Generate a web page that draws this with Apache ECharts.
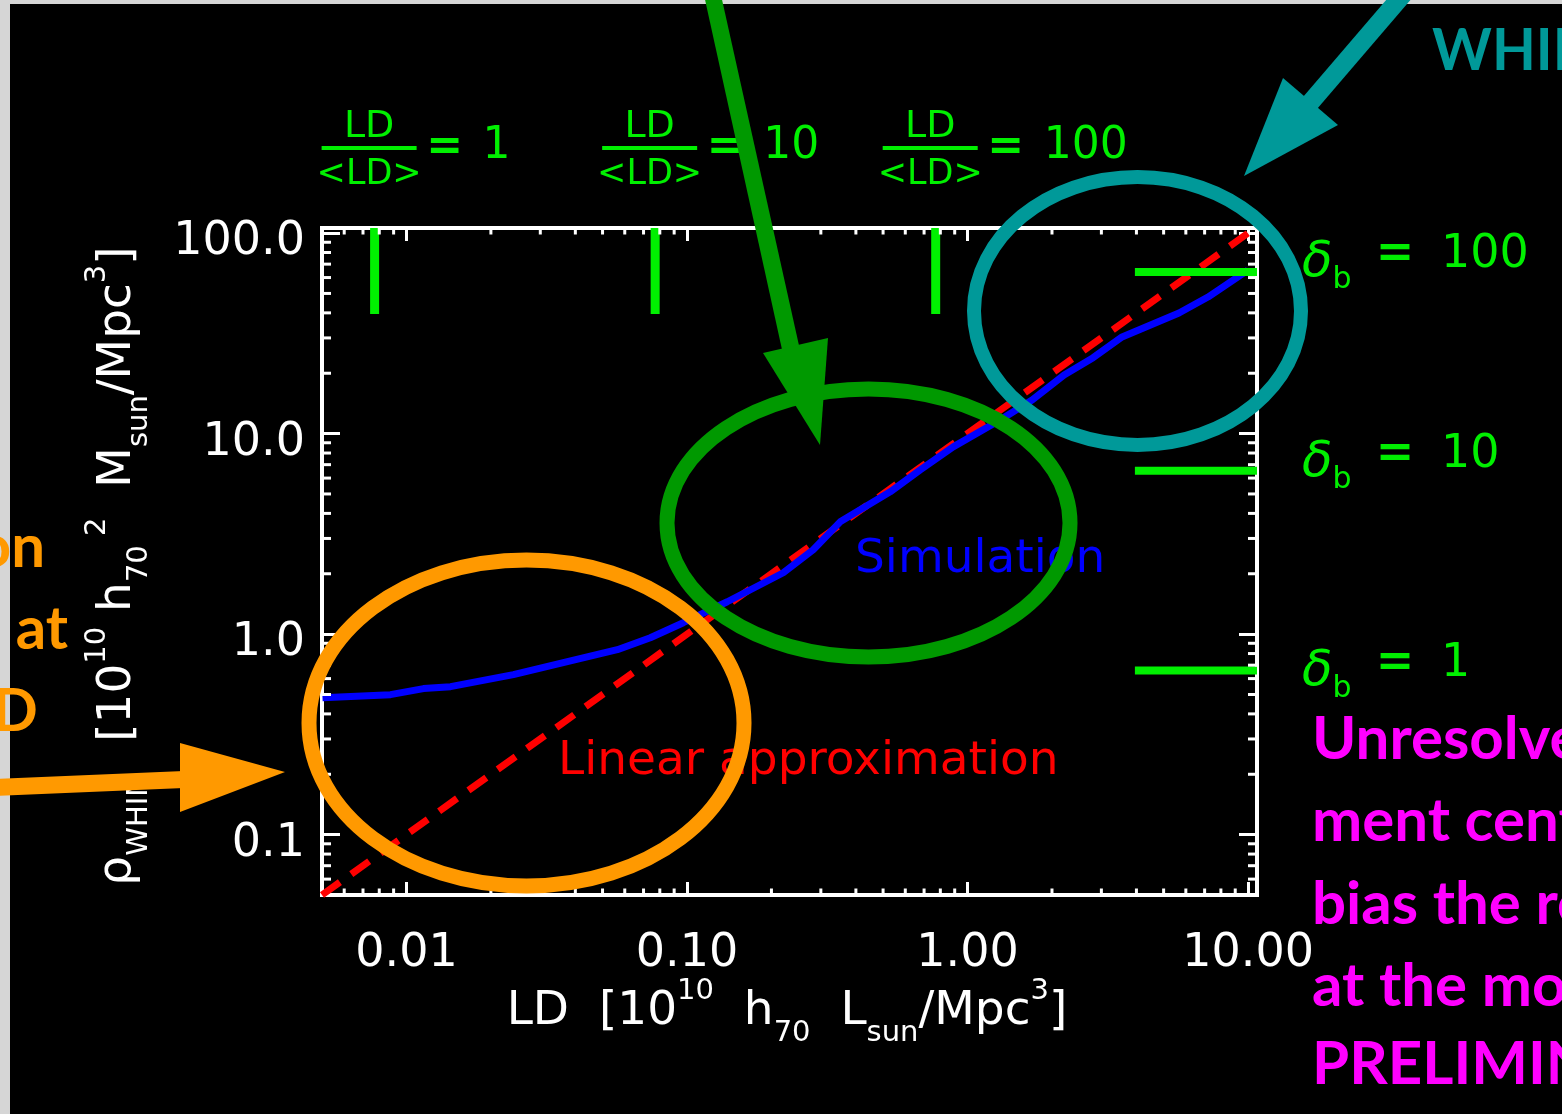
<!DOCTYPE html>
<html>
<head>
<meta charset="utf-8">
<script src="https://cdn.jsdelivr.net/npm/echarts@6/dist/echarts.min.js"></script>
<style>
  html, body { margin: 0; padding: 0; background: #000; }
  #chart { width: 1562px; height: 1114px; }
</style>
</head>
<body>
<div id="chart"></div>
<script>
// Simulated WHIM mass density against galaxy luminosity density
const ldSim  = [0.00502, 0.00877, 0.0115, 0.01436, 0.02405, 0.03747, 0.05646, 0.0740, 0.0970,
                0.1392, 0.2204, 0.2818, 0.3516, 0.530, 0.678, 0.8886, 1.306, 1.699, 2.209,
                2.803, 3.555, 5.673, 7.196, 9.99];
const rhoSim = [0.482, 0.499, 0.535, 0.547, 0.628, 0.729, 0.836, 0.959, 1.140,
                1.450, 2.023, 2.634, 3.631, 5.123, 6.595, 8.586, 11.70, 14.72, 19.61,
                23.90, 30.33, 39.95, 47.98, 65.4];

// Linear approximation rho = 10 * LD across the whole range
const ldLinear  = [0.005, 10.76];
const rhoLinear = [0.05, 107.6];

// LD / <LD> markers along the top and baryon overdensity markers on the right
const ldRatioMarks   = [0.0077, 0.077, 0.77];
const ratioValues    = ['1', '10', '100'];
const ratioBarRho    = [39.5, 106];
const rhoDeltaMarks  = [0.658, 6.52, 64.0];
const deltaValues    = ['1', '10', '100'];
const deltaBarLD     = [3.95, 10.76];

// Axis ranges and labelled ticks
const xRange = [0.005, 10.76];
const yRange = [0.05, 106];
const xTickValues = [0.01, 0.1, 1, 10];
const xTickLabels = ['0.01', '0.10', '1.00', '10.00'];
const yTickValues = [0.1, 1, 10, 100];
const yTickLabels = ['0.1', '1.0', '10.0', '100.0'];
const minorSteps  = [2, 3, 4, 5, 6, 7, 8, 9];
const decades     = [0.001, 0.01, 0.1, 1, 10];

function minorTicks(range) {
  const out = [];
  decades.forEach(d => minorSteps.forEach(m => {
    const v = +(d * m).toPrecision(6);
    if (v > range[0] * 1.0001 && v < range[1] * 0.9999) out.push(v);
  }));
  return out;
}
const xMinor = minorTicks(xRange);
const yMinor = minorTicks(yRange);

function labelFor(values, labels) {
  return function (v) {
    for (let i = 0; i < values.length; i++) {
      if (Math.abs(Math.log10(v) - Math.log10(values[i])) < 1e-6) return labels[i];
    }
    return '';
  };
}

const FONT = 'DejaVu Sans';
const SLIDE_FONT = 'Lato';
const WHITE = '#ffffff';
const LIME = '#00f000';

const chart = echarts.init(document.getElementById('chart'), null, { renderer: 'canvas' });

function axisBase(pos, range, tickLen) {
  return {
    type: 'log', logBase: 10, min: range[0], max: range[1], position: pos,
    axisLine: { show: true, onZero: false, lineStyle: { color: WHITE, width: 4, cap: 'square' } },
    axisTick: { show: true, inside: true, length: tickLen, lineStyle: { color: WHITE, width: 3 } },
    splitLine: { show: false },
    minorTick: { show: false },
    axisLabel: { show: false }
  };
}

const xBottom = axisBase('bottom', xRange, 13);
xBottom.axisLabel = {
  show: true, showMinLabel: false, showMaxLabel: false, margin: 36,
  color: WHITE, fontFamily: FONT, fontSize: 46,
  formatter: labelFor(xTickValues, xTickLabels)
};
const yLeft = axisBase('left', yRange, 18);
yLeft.axisLabel = {
  show: true, showMinLabel: false, showMaxLabel: false, margin: 17,
  color: WHITE, fontFamily: FONT, fontSize: 46, verticalAlign: 'top', lineHeight: 18,
  formatter: labelFor(yTickValues, yTickLabels)
};

const series = [
  {
    name: 'Linear approximation', type: 'line', z: 3, silent: true,
    data: ldLinear.map((x, i) => [x, rhoLinear[i]]),
    showSymbol: false,
    lineStyle: { color: '#ff0000', width: 7, type: [22, 14] }
  },
  {
    name: 'Simulation', type: 'line', z: 4, silent: true,
    data: ldSim.map((x, i) => [x, rhoSim[i]]),
    showSymbol: false,
    lineStyle: { color: '#0000ff', width: 7 }
  }
];
ldRatioMarks.forEach(v => series.push({
  type: 'line', z: 5, silent: true, showSymbol: false,
  data: ratioBarRho.map(r => [v, r]),
  lineStyle: { color: LIME, width: 9 }
}));
rhoDeltaMarks.forEach(r => series.push({
  type: 'line', z: 5, silent: true, showSymbol: false,
  data: deltaBarLD.map(x => [x, r]),
  lineStyle: { color: LIME, width: 8 }
}));
// logarithmic minor ticks on all four sides of the box
series.push({
  type: 'custom', z: 6, silent: true, clip: false,
  data: xMinor.map(v => [v, 1]),
  renderItem: function (params, api) {
    const cs = params.coordSys;
    const p = api.coord([api.value(0), 1]);
    const st = { stroke: WHITE, lineWidth: 3 };
    return { type: 'group', children: [
      { type: 'line', shape: { x1: p[0], y1: cs.y + cs.height, x2: p[0], y2: cs.y + cs.height - 6.5 }, style: st },
      { type: 'line', shape: { x1: p[0], y1: cs.y, x2: p[0], y2: cs.y + 6.5 }, style: st }
    ]};
  }
});
series.push({
  type: 'custom', z: 6, silent: true, clip: false,
  data: yMinor.map(v => [1, v]),
  renderItem: function (params, api) {
    const cs = params.coordSys;
    const p = api.coord([1, api.value(1)]);
    const st = { stroke: WHITE, lineWidth: 3 };
    return { type: 'group', children: [
      { type: 'line', shape: { x1: cs.x, y1: p[1], x2: cs.x + 9, y2: p[1] }, style: st },
      { type: 'line', shape: { x1: cs.x + cs.width, y1: p[1], x2: cs.x + cs.width - 9, y2: p[1] }, style: st }
    ]};
  }
});

chart.setOption({
  backgroundColor: '#000000',
  animation: false,
  grid: { left: 322, top: 228, width: 935, height: 667, containLabel: false },
  xAxis: [xBottom, axisBase('top', xRange, 13)],
  yAxis: [yLeft, axisBase('right', yRange, 18)],
  series: series
});

// ---- text and annotations ----
function txt(x, y, text, opt) {
  return {
    type: 'text', x: x, y: y, z: 50,
    style: Object.assign({
      text: text, fill: WHITE, fontFamily: FONT, fontSize: 44,
      align: 'left', verticalAlign: 'middle', textAlign: 'left', textVerticalAlign: 'middle'
    }, opt || {})
  };
}
function richStyles(color, size, sub) {
  return {
    n:   { fill: color, fontFamily: FONT, fontSize: size, lineHeight: size + 24 },
    sup: { fill: color, fontFamily: FONT, fontSize: sub, lineHeight: sub, verticalAlign: 'top' },
    sub: { fill: color, fontFamily: FONT, fontSize: sub, lineHeight: sub, verticalAlign: 'bottom' }
  };
}

const graphics = [];

// light frame of the slide
graphics.push({ type: 'rect', z: 1, shape: { x: 0, y: 0, width: 10, height: 1114 }, style: { fill: '#d6d6d6' } });
graphics.push({ type: 'rect', z: 1, shape: { x: 0, y: 0, width: 1562, height: 4 }, style: { fill: '#d6d6d6' } });

// axis titles
graphics.push({
  type: 'text', x: 787, y: 1012, z: 50,
  style: {
    text: '{n|LD  [10}{sup|10}{n|  h}{sub|70}{n|  L}{sub|sun}{n|/Mpc}{sup|3}{n|]}',
    rich: richStyles(WHITE, 47, 29),
    align: 'center', verticalAlign: 'middle', textAlign: 'center', textVerticalAlign: 'middle'
  }
});
graphics.push({
  type: 'text', x: 118, y: 566, z: 50, rotation: Math.PI / 2,
  style: {
    text: '{n|\u03C1}{sub|WHIM}{n|  [10}{sup|10}{n| h}{sub|70}{sup| 2}{n|  M}{sub|sun}{n|/Mpc}{sup|3}{n|]}',
    rich: richStyles(WHITE, 47, 29),
    align: 'center', verticalAlign: 'middle', textAlign: 'center', textVerticalAlign: 'middle'
  }
});

// in-plot labels
graphics.push(txt(855, 560, 'Simulation', { fill: '#0000ff', fontSize: 47 }));
graphics.push(txt(558, 762, 'Linear approximation', { fill: '#ff0000', fontSize: 47 }));

// LD/<LD> fractions above the top axis
ldRatioMarks.forEach((v, i) => {
  const px = chart.convertToPixel({ xAxisIndex: 0 }, v);
  const cx = px - 5.5;
  graphics.push(txt(cx, 127, 'LD', { fill: LIME, fontSize: 38, align: 'center', textAlign: 'center' }));
  graphics.push({ type: 'rect', z: 50, shape: { x: cx - 47.5, y: 146, width: 95, height: 4 }, style: { fill: LIME } });
  graphics.push(txt(cx, 175, '<LD>', { fill: LIME, fontSize: 35, align: 'center', textAlign: 'center' }));
  graphics.push(txt(px + 70, 148, '=', { fill: LIME, fontSize: 44, fontWeight: 'bold', align: 'center', textAlign: 'center' }));
  graphics.push(txt(px + 108, 147, ratioValues[i], { fill: LIME, fontSize: 44 }));
});

// delta_b labels on the right
const deltaLabelY = [664, 455, 255];
rhoDeltaMarks.forEach((r, i) => {
  const y = deltaLabelY[i];
  graphics.push({
    type: 'text', x: 1302, y: y + 8, z: 50,
    style: {
      text: '{d|\u03B4}{b|b}',
      rich: {
        d: { fill: LIME, fontFamily: FONT, fontSize: 50, fontStyle: 'italic', lineHeight: 64 },
        b: { fill: LIME, fontFamily: FONT, fontSize: 30, lineHeight: 30, verticalAlign: 'bottom' }
      },
      align: 'left', verticalAlign: 'middle', textAlign: 'left', textVerticalAlign: 'middle'
    }
  });
  graphics.push(txt(1395, y, '=', { fill: LIME, fontSize: 46, fontWeight: 'bold', align: 'center', textAlign: 'center' }));
  graphics.push(txt(1441, y, deltaValues[i], { fill: LIME, fontSize: 46 }));
});

// highlighting ellipses
graphics.push({ type: 'ellipse', z: 60, shape: { cx: 526.5, cy: 723, rx: 217.5, ry: 163 }, style: { fill: null, stroke: '#ff9900', lineWidth: 15 } });
graphics.push({ type: 'ellipse', z: 60, shape: { cx: 868.5, cy: 523, rx: 201.5, ry: 134 }, style: { fill: null, stroke: '#009900', lineWidth: 15 } });
graphics.push({ type: 'ellipse', z: 60, shape: { cx: 1137.5, cy: 311, rx: 163.5, ry: 134 }, style: { fill: null, stroke: '#009999', lineWidth: 14 } });

// arrows
graphics.push({ type: 'polygon', z: 61, shape: { points: [[-5, 779], [184, 771], [184, 788], [-5, 796]] }, style: { fill: '#ff9900' } });
graphics.push({ type: 'polygon', z: 61, shape: { points: [[180, 743], [285, 772], [180, 812]] }, style: { fill: '#ff9900' } });
graphics.push({ type: 'polygon', z: 61, shape: { points: [[704, -5], [721, -5], [800, 350], [783, 354]] }, style: { fill: '#009900' } });
graphics.push({ type: 'polygon', z: 61, shape: { points: [[763, 353], [828, 338], [820, 445]] }, style: { fill: '#009900' } });
graphics.push({ type: 'polygon', z: 61, shape: { points: [[1303, 97], [1317, 109], [1413, -3], [1399, -15]] }, style: { fill: '#009999' } });
graphics.push({ type: 'polygon', z: 61, shape: { points: [[1283, 78], [1338, 125], [1244, 176]] }, style: { fill: '#009999' } });

// slide text
const slideStyle = { fontFamily: SLIDE_FONT, fontWeight: 'bold', fontSize: 60 };
graphics.push(txt(1432, 52, 'WHIM', Object.assign({ fill: '#009999' }, slideStyle, { fontSize: 57 })));
const leftLines = ['resolution', 'at', 'low LD'];
const leftRight = [45, 68, 38];
const leftY = [548, 630, 712];
leftLines.forEach((s, i) => graphics.push(txt(leftRight[i], leftY[i], s,
  Object.assign({ fill: '#ff9900', align: 'right', textAlign: 'right' }, slideStyle))));
const noteLines = ['Unresolved fila-', 'ment centres may', 'bias the relation', 'at the moment', 'PRELIMINARY'];
const noteY = [740, 822, 905, 987, 1065];
noteLines.forEach((s, i) => graphics.push(txt(1312, noteY[i], s,
  Object.assign({ fill: '#ff00ff' }, slideStyle))));

chart.setOption({ graphic: { elements: graphics } });
</script>
</body>
</html>
